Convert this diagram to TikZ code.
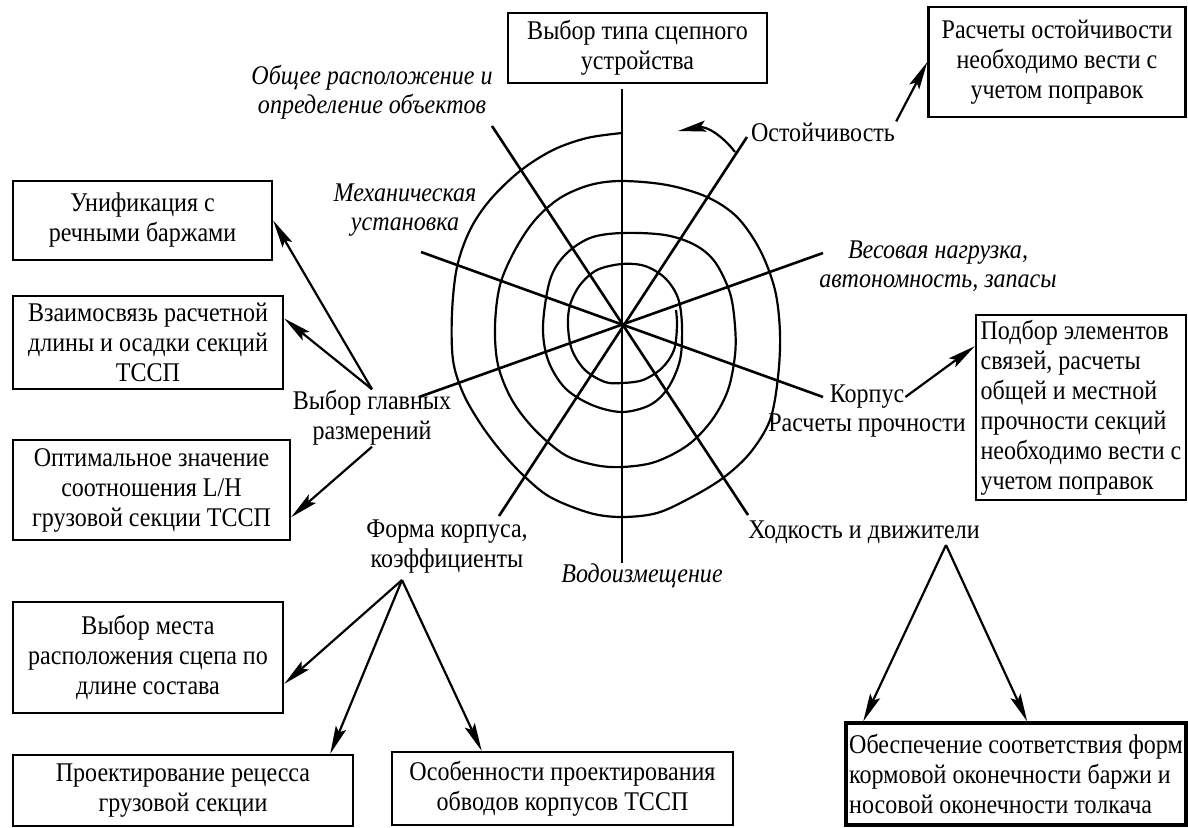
\documentclass[tikz,border=0pt]{standalone}
\usepackage{fontspec}
\setmainfont{Liberation Serif}[FakeStretch=0.89]
\usetikzlibrary{arrows.meta,positioning,calc}

\begin{document}
\begin{tikzpicture}[x=1pt, y=-1pt,
  box/.style={draw, line width=2.4pt, align=center, inner sep=2pt, font=\fontsize{27}{30}\selectfont},
  lbl/.style={align=center, inner sep=1pt, font=\fontsize{27}{30}\selectfont},
  ilbl/.style={align=center, inner sep=1pt, font=\fontsize{27}{29}\selectfont\itshape},
  spoke/.style={line width=2.6pt},
  coil/.style={line width=2.2pt, line join=round},
  arr/.style={line width=2.2pt, -{Stealth[length=28pt,width=11pt,inset=5pt]}}]
\useasboundingbox (0,0) rectangle (1188,827);

\node[box, minimum width=259pt, minimum height=70pt] (scep) at (637.5,48) {Выбор типа сцепного\\устройства};
\node[box, minimum width=257pt, minimum height=110pt] (ostbox) at (1057,62) {Расчеты остойчивости\\необходимо вести с\\учетом поправок};
\node[box, minimum width=259pt, minimum height=79pt] (unif) at (142.5,220.5) {Унификация с\\речными баржами};
\node[box, minimum width=270pt, minimum height=93pt] (vzaim) at (148,342.5) {Взаимосвязь расчетной\\длины и осадки секций\\ТССП};
\node[box, minimum width=277pt, minimum height=100pt] (optim) at (151.5,490) {Оптимальное значение\\соотношения L/H\\грузовой секции ТССП};
\node[box, minimum width=270pt, minimum height=111pt] (mesto) at (148,657.5) {Выбор места\\расположения сцепа по\\длине состава};
\node[box, minimum width=340pt, minimum height=71pt] (recess) at (183,790.5) {Проектирование рецесса\\грузовой секции};
\node[box, minimum width=341pt, minimum height=73pt] (obvod) at (562.5,788.5) {Особенности проектирования\\обводов корпусов ТССП};
\node[box, line width=3.2pt, minimum width=340pt, minimum height=102pt, align=left] (sootv) at (1016,774) {Обеспечение соответствия форм\\кормовой оконечности баржи и\\носовой оконечности толкача};
\node[box, minimum width=210pt, minimum height=185pt, align=left] (podbor) at (1081,407.5) {Подбор элементов\\связей, расчеты\\общей и местной\\прочности секций\\необходимо вести с\\учетом поправок};

\node[lbl] (ost) at (823,132) {Остойчивость};
\node[lbl] (korp) at (867,397) {Корпус};
\node[lbl, below=3pt of korp] (prochn) {Расчеты прочности};
\node[lbl] (hodk) at (864,532) {Ходкость и движители};
\node[lbl] (glav) at (372,418) {Выбор главных\\размерений};
\node[lbl] (forma) at (447,547) {Форма корпуса,\\коэффициенты};
\node[ilbl] (obsh) at (372,92) {Общее расположение и\\определение объектов};
\node[ilbl] (meh) at (405,210) {Механическая\\установка};
\node[ilbl] (ves) at (938,266) {Весовая нагрузка,\\автономность, запасы};
\node[ilbl] (vodo) at (642,576) {Водоизмещение};

\coordinate (c) at (622,326);
\foreach \a/\b in {{622,89}/{622,563}, {747,137}/{499,516}, {492,126}/{748,515}, {823,253}/{419,397}, {421,252}/{823,397}}
  \draw[spoke] (\a) -- (\b);

\draw[coil] plot[smooth, tension=0.55] coordinates {
  (622,133) (587,138) (553,150) (520,171) (490,200) (470,230) (457,267) (452,313) (453,360)
  (463,393) (480,423) (500,450) (523,475) (550,497) (590,513) (622,517) (657,513) (690,498)
  (723,478) (750,453) (770,420) (778,377) (780,333) (775,290) (760,250) (737,217) (707,197)
  (667,185) (622,181) (590,185) (560,198) (535,220) (515,250) (500,285) (495,326) (498,365)
  (512,400) (535,430) (565,455) (595,465) (622,467) (655,462) (688,445) (712,420) (728,390)
  (735,355) (735,326) (730,293) (715,262) (695,245) (665,235) (622,233) (590,238) (565,255)
  (550,280) (543,326) (548,360) (565,388) (592,405) (622,412) (650,405) (668,388) (680,360)
  (682,326) (678,298) (665,278) (645,266) (622,264) (597,270) (580,285) (570,305) (568,326)
  (572,350) (585,370) (605,382) (622,383) (643,380) (662,368) (674,350) (677,326) (676,310)};

\coordinate (turn) at (735,152);
\coordinate (turnend) at (678,131);
\draw[arr] (turn) .. controls (722,135) and (706,126) .. (turnend);

\draw[arr] (glav.north) -- (unif.east);
\draw[arr] (glav.north) -- (vzaim.10);
\draw[arr] (glav.south) -- (optim.-11);
\coordinate (formafoot) at (402,580);
\draw[arr] (formafoot) -- (mesto.-11);
\draw[arr] (formafoot) -- (recess.14);
\draw[arr] (formafoot) -- (obvod.155);
\coordinate (hodkfoot) at (946,545);
\draw[arr] (hodkfoot) -- (sootv.161);
\draw[arr] (hodkfoot) -- (sootv.78);
\draw[arr] (korp.east) -- (podbor.150);
\draw[arr] (ost.north east) -- (ostbox.west);
\end{tikzpicture}
\end{document}
